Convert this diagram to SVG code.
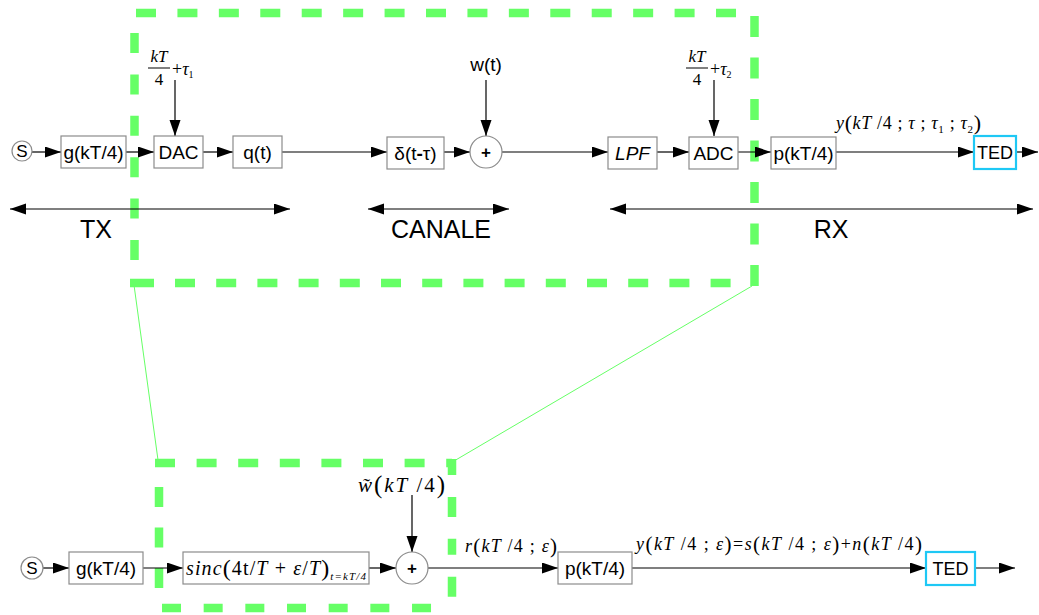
<svg xmlns="http://www.w3.org/2000/svg" width="1039" height="615" viewBox="0 0 1039 615">
  <style>
    .box { fill: #ffffff; stroke: #8c8c8c; stroke-width: 1.2; }
    .ted { fill: #ffffff; stroke: #1ec8f5; stroke-width: 2.2; }
    .circ { fill: #ffffff; stroke: #8c8c8c; stroke-width: 1.2; }
    .lbl { font-family: "Liberation Sans", Arial, sans-serif; font-size: 19px; text-anchor: middle; fill: #000; }
    .plus { font-family: "Liberation Sans", Arial, sans-serif; font-size: 17px; font-weight: bold; text-anchor: middle; fill: #000; }
    .big { font-family: "Liberation Sans", Arial, sans-serif; font-size: 25px; text-anchor: middle; fill: #000; }
    .m { font-family: "Liberation Serif", "Times New Roman", serif; font-size: 17px; fill: #000; }
    .i { font-style: italic; }
    .wire { stroke: #000; stroke-width: 1.2; fill: none; marker-end: url(#ah); }
    .span { stroke: #000; stroke-width: 1.2; fill: none; marker-start: url(#ah); marker-end: url(#ah); }
    .frame { stroke: #66ff66; stroke-width: 8.5; fill: none; }
    .thin { stroke: #66ff66; stroke-width: 1; fill: none; }
  </style>
  <defs>
    <marker id="ah" markerUnits="userSpaceOnUse" markerWidth="17" markerHeight="12" refX="16" refY="5.5" orient="auto-start-reverse">
      <path d="M0,0 L16,5.5 L0,11 Z" fill="#000"/>
    </marker>
  </defs>

  <!-- dashed highlight frames and their link lines -->
  <g id="frames">
    <line class="frame" x1="136" y1="13" x2="737" y2="13" stroke-dasharray="20 21.43"/>
    <line class="frame" x1="754.5" y1="16" x2="754.5" y2="286" stroke-dasharray="21 20.5"/>
    <line class="frame" x1="134.5" y1="33" x2="134.5" y2="261" stroke-dasharray="20 21.4"/>
    <line class="frame" x1="130" y1="283" x2="732" y2="283" stroke-dasharray="24 21 20 21.2 20 21.2 20 21.2 20 21.2 20 21.2 20 21.2 20 21.2 20 21.2 20 21.2 20 21.2 20 21.2 20 21.2 20 21.2 20 21.2"/>
    <line class="frame" x1="155" y1="463" x2="452" y2="463" stroke-dasharray="20 21.6"/>
    <line class="frame" x1="452" y1="459" x2="452" y2="602" stroke-dasharray="16 22 20 21.7"/>
    <line class="frame" x1="162" y1="608" x2="452" y2="608" stroke-dasharray="19 22.67"/>
    <line class="frame" x1="159" y1="487" x2="159" y2="590" stroke-dasharray="20 20.5"/>
    <line class="thin" x1="134" y1="285" x2="158" y2="460"/>
    <line class="thin" x1="752" y1="286" x2="454" y2="461"/>
  </g>

  <!-- connectors -->
  <g id="connectors">
    <!-- upper chain -->
    <line class="wire" x1="32" y1="152" x2="61" y2="152"/>
    <line class="wire" x1="126" y1="152" x2="154" y2="152"/>
    <line class="wire" x1="203" y1="152" x2="233" y2="152"/>
    <line class="wire" x1="282" y1="152" x2="387" y2="152"/>
    <line class="wire" x1="444" y1="152" x2="470" y2="152"/>
    <line class="wire" x1="502" y1="152" x2="608" y2="152"/>
    <line class="wire" x1="657" y1="152" x2="689" y2="152"/>
    <line class="wire" x1="738" y1="152" x2="771" y2="152"/>
    <line class="wire" x1="836" y1="152" x2="974" y2="152"/>
    <line class="wire" x1="1016" y1="152" x2="1038" y2="152"/>
    <line class="wire" x1="175" y1="80" x2="175" y2="136"/>
    <line class="wire" x1="486" y1="80" x2="486" y2="136"/>
    <line class="wire" x1="714" y1="80" x2="714" y2="136"/>
    <!-- section spans -->
    <line class="span" x1="10" y1="209" x2="290" y2="209"/>
    <line class="span" x1="368" y1="209" x2="509" y2="209"/>
    <line class="span" x1="610" y1="209" x2="1033" y2="209"/>
    <!-- lower chain -->
    <line class="wire" x1="43" y1="568" x2="69" y2="568"/>
    <line class="wire" x1="143" y1="568" x2="183" y2="568"/>
    <line class="wire" x1="369" y1="568" x2="396" y2="568"/>
    <line class="wire" x1="428" y1="568" x2="558" y2="568"/>
    <line class="wire" x1="632" y1="568" x2="926" y2="568"/>
    <line class="wire" x1="975" y1="568" x2="1015" y2="568"/>
    <line class="wire" x1="412" y1="495" x2="412" y2="552"/>
  </g>

  <!-- upper chain nodes -->
  <g id="src1">
    <circle class="circ" cx="22" cy="151" r="10"/>
    <text class="lbl" x="22" y="157" style="font-size:17px">S</text>
  </g>
  <g id="g1">
    <rect class="box" x="61" y="136" width="65" height="32"/>
    <text class="lbl" x="93.5" y="159">g(kT/4)</text>
  </g>
  <g id="dac">
    <rect class="box" x="154" y="136" width="49" height="32"/>
    <text class="lbl" x="178.5" y="159">DAC</text>
  </g>
  <g id="q">
    <rect class="box" x="233" y="136" width="49" height="32"/>
    <text class="lbl" x="257.5" y="159">q(t)</text>
  </g>
  <g id="delay">
    <rect class="box" x="387" y="137" width="57" height="32"/>
    <text class="lbl" x="415.5" y="160">δ(t<tspan font-weight="bold">-</tspan>τ)</text>
  </g>
  <g id="sum1">
    <circle class="circ" cx="486" cy="152" r="16"/>
    <text class="plus" x="486" y="158">+</text>
  </g>
  <g id="lpf">
    <rect class="box" x="608" y="137" width="49" height="32"/>
    <text class="lbl i" x="632.5" y="160">LPF</text>
  </g>
  <g id="adc">
    <rect class="box" x="689" y="137" width="49" height="32"/>
    <text class="lbl" x="713.5" y="160">ADC</text>
  </g>
  <g id="p1">
    <rect class="box" x="771" y="137" width="65" height="32"/>
    <text class="lbl" x="803.5" y="160">p(kT/4)</text>
  </g>
  <g id="ted1">
    <rect class="ted" x="974" y="136" width="42" height="33"/>
    <text class="lbl" x="995" y="159" style="font-size:18px">TED</text>
  </g>

  <!-- upper chain labels -->
  <g id="tau1">
    <text class="m i" x="159" y="62" text-anchor="middle">kT</text>
    <line x1="148" y1="68" x2="170" y2="68" stroke="#000" stroke-width="1"/>
    <text class="m" x="159" y="85" text-anchor="middle">4</text>
    <text class="m" x="172" y="75" style="font-size:18px">+<tspan class="i">τ</tspan><tspan font-size="10" dy="3">1</tspan></text>
  </g>
  <g id="noise1">
    <text class="lbl" x="486" y="71">w(t)</text>
  </g>
  <g id="tau2">
    <text class="m i" x="697" y="62" text-anchor="middle">kT</text>
    <line x1="686" y1="68" x2="708" y2="68" stroke="#000" stroke-width="1"/>
    <text class="m" x="697" y="85" text-anchor="middle">4</text>
    <text class="m" x="710" y="75" style="font-size:18px">+<tspan class="i">τ</tspan><tspan font-size="10" dy="3">2</tspan></text>
  </g>
  <g id="ylabel1">
    <text class="m" x="836" y="129" style="font-size:18px" textLength="145"><tspan class="i">y</tspan><tspan font-size="22" dy="1">(</tspan><tspan class="i" dy="-1">kT</tspan> /4 ; <tspan class="i">τ</tspan> ; <tspan class="i">τ</tspan><tspan font-size="11" dy="4">1</tspan><tspan dy="-4"> ; </tspan><tspan class="i">τ</tspan><tspan font-size="11" dy="4">2</tspan><tspan font-size="22" dy="-3">)</tspan></text>
  </g>

  <!-- section captions -->
  <g id="captions">
    <text class="big" x="96" y="238">TX</text>
    <text class="big" x="441" y="238">CANALE</text>
    <text class="big" x="831" y="238">RX</text>
  </g>

  <!-- lower chain nodes -->
  <g id="src2">
    <circle class="circ" cx="32" cy="568" r="11"/>
    <text class="lbl" x="32" y="574" style="font-size:17px">S</text>
  </g>
  <g id="g2">
    <rect class="box" x="69" y="552" width="74" height="32"/>
    <text class="lbl" x="106" y="575">g(kT/4)</text>
  </g>
  <g id="sinc">
    <rect class="box" x="183" y="552" width="186" height="32"/>
    <text class="m" x="186" y="575" style="font-size:20px" textLength="180"><tspan class="i">sinc</tspan><tspan font-size="24" dy="1">(</tspan><tspan dy="-1">4t/</tspan><tspan class="i">T</tspan> + <tspan class="i">ε</tspan>/<tspan class="i">T</tspan><tspan font-size="24" dy="1">)</tspan><tspan class="i" font-size="11" dy="4">t=kT/4</tspan></text>
  </g>
  <g id="sum2">
    <circle class="circ" cx="412" cy="568" r="16"/>
    <text class="plus" x="412" y="574">+</text>
  </g>
  <g id="p2">
    <rect class="box" x="558" y="552" width="74" height="32"/>
    <text class="lbl" x="595" y="575">p(kT/4)</text>
  </g>
  <g id="ted2">
    <rect class="ted" x="926" y="552" width="49" height="33"/>
    <text class="lbl" x="950.5" y="575" style="font-size:18px">TED</text>
  </g>

  <!-- lower chain labels -->
  <g id="noise2">
    <text class="m" x="358" y="492" style="font-size:21px" textLength="87"><tspan class="i">w̃</tspan><tspan font-size="25" dy="1">(</tspan><tspan class="i" dy="-1">kT</tspan> /4<tspan font-size="25" dy="1">)</tspan></text>
  </g>
  <g id="rlabel">
    <text class="m" x="465" y="552" style="font-size:18px" textLength="92"><tspan class="i">r</tspan><tspan font-size="21" dy="1">(</tspan><tspan class="i" dy="-1">kT</tspan> /4 ; <tspan class="i">ε</tspan><tspan font-size="21" dy="1">)</tspan></text>
  </g>
  <g id="ylabel2">
    <text class="m" x="636" y="550" style="font-size:18px" textLength="286"><tspan class="i">y</tspan><tspan font-size="21" dy="1">(</tspan><tspan class="i" dy="-1">kT</tspan> /4 ; <tspan class="i">ε</tspan><tspan font-size="21" dy="1">)</tspan><tspan dy="-1">=</tspan><tspan class="i">s</tspan><tspan font-size="21" dy="1">(</tspan><tspan class="i" dy="-1">kT</tspan> /4 ; <tspan class="i">ε</tspan><tspan font-size="21" dy="1">)</tspan><tspan dy="-1">+</tspan><tspan class="i">n</tspan><tspan font-size="21" dy="1">(</tspan><tspan class="i" dy="-1">kT</tspan> /4<tspan font-size="21" dy="1">)</tspan></text>
  </g>
</svg>
